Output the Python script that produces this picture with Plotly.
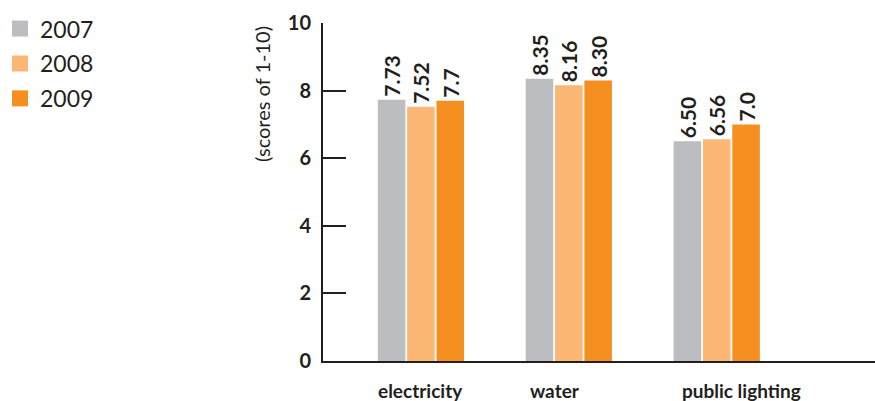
import plotly.graph_objects as go

categories = ["electricity", "water", "public lighting"]
years = ["2007", "2008", "2009"]
scores_2007 = [7.73, 8.35, 6.50]
scores_2008 = [7.52, 8.16, 6.56]
scores_2009 = [7.7, 8.30, 7.0]
labels_2007 = ["7.73", "8.35", "6.50"]
labels_2008 = ["7.52", "8.16", "6.56"]
labels_2009 = ["7.7", "8.30", "7.0"]
y_ticks = [0, 2, 4, 6, 8, 10]

series = [
    (years[0], scores_2007, labels_2007, "#bcbdc0"),
    (years[1], scores_2008, labels_2008, "#fdb774"),
    (years[2], scores_2009, labels_2009, "#f58f20"),
]

DARK = "#231f20"
x_pos = list(range(len(categories)))

fig = go.Figure()
for name, vals, labs, color in series:
    fig.add_trace(go.Bar(
        x=x_pos, y=vals, name=name, marker=dict(color=color, line=dict(width=0)),
        text=labs, textposition="outside", textangle=-90,
        constraintext="none",
        textfont=dict(family="Liberation Sans Narrow, Lato", size=21, color=DARK, weight=700),
        cliponaxis=False, showlegend=False,
    ))
    # legend entry with a larger square swatch
    fig.add_trace(go.Scatter(
        x=[None], y=[None], mode="markers", name=name, legendgroup=name,
        marker=dict(symbol="square", size=16, color=color),
    ))

# category labels under each group
label_shift = [0, -14, 25]
for xi, cat, sh in zip(x_pos, categories, label_shift):
    fig.add_annotation(x=xi, y=0, yref="y", text=cat, showarrow=False,
                       yanchor="top", yshift=-16, xshift=sh,
                       font=dict(family="Lato", size=19, color=DARK, weight=700))

fig.add_annotation(xref="paper", x=0, xanchor="center", xshift=-61, y=7.9, yref="y",
                   text="(scores of 1-10)", textangle=-90, showarrow=False,
                   font=dict(family="Lato", size=20, color=DARK))

fig.update_layout(
    width=875, height=401,
    margin=dict(l=323, r=0, t=23, b=40),
    paper_bgcolor="white", plot_bgcolor="white",
    barmode="group", bargap=0.405, bargroupgap=0.06,
    legend=dict(x=-323/552, xanchor="left", y=1.047, yanchor="top",
                font=dict(family="Lato", size=23, color=DARK),
                tracegroupgap=2),
    xaxis=dict(range=[-0.662, 3.07], showticklabels=False, ticks="",
               showgrid=False, zeroline=False, showline=True,
               linecolor=DARK, linewidth=2),
    yaxis=dict(range=[0, 10], tickvals=y_ticks, ticks="inside", ticklen=23,
               tickwidth=2, tickcolor=DARK, showgrid=False, zeroline=False,
               showline=True, linecolor=DARK, linewidth=2,
               ticklabelstandoff=6,
               tickfont=dict(family="Lato", size=20, color=DARK, weight=700)),
)

fig.write_html("out.html")
